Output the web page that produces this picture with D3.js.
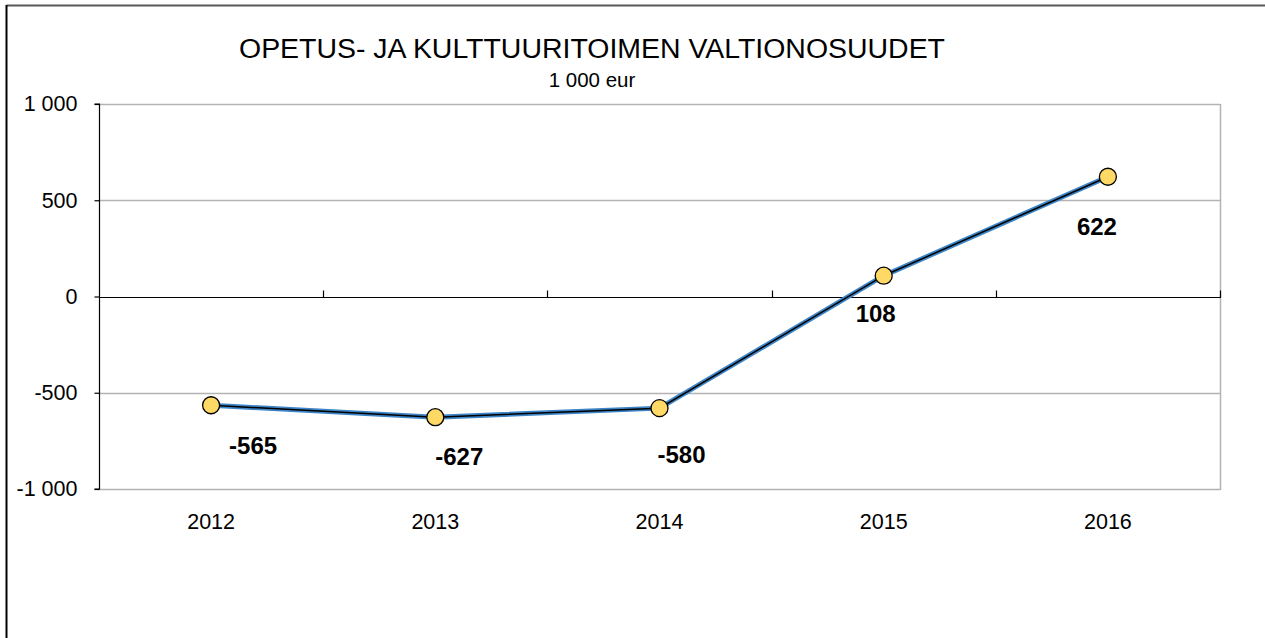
<!DOCTYPE html>
<html>
<head>
<meta charset="utf-8">
<script src="https://cdn.jsdelivr.net/npm/d3@7"></script>
<style>
  body { margin: 0; background: #fff; }
  text { font-family: "Liberation Sans", Arial, sans-serif; }
</style>
</head>
<body>
<div id="chart"></div>
<script>
// data
var years = ["2012", "2013", "2014", "2015", "2016"];
var values = [-565, -627, -580, 108, 622];
var yTicks = [-1000, -500, 0, 500, 1000];
var titleText = "OPETUS- JA KULTTUURITOIMEN VALTIONOSUUDET";
var subtitleText = "1 000 eur";

window.onload = function() {
    var width = 1265, height = 638;
    var margin = {top: 104, right: 45, bottom: 149, left: 99};

    var svg = d3.select("#chart")
                .append("svg")
                .attr("width", width)
                .attr("height", height);

    // outer frame (only top and left edges show in the crop)
    svg.append("line")
        .attr("x1", 6.5).attr("x2", width).attr("y1", 5.5).attr("y2", 5.5)
        .style("stroke", "#595959").style("stroke-width", 2);
    svg.append("line")
        .attr("x1", 6.5).attr("x2", 6.5).attr("y1", 5).attr("y2", height)
        .style("stroke", "#000").style("stroke-width", 2);

    var x = d3.scaleBand()
        .domain(years)
        .range([margin.left, width - margin.right]);

    var y = d3.scaleLinear()
        .domain([-1000, 1000])
        .range([height - margin.bottom, margin.top]);

    // finnish style: hyphen minus, space as thousands separator
    var fmt = function(d) {
        return d3.format(",")(d).replace(/,/g, " ").replace("\u2212", "-");
    };

    // gridlines
    svg.append("g")
        .selectAll("line")
        .data(yTicks.filter(function(d) { return d !== 0; }))
        .enter()
        .append("line")
        .attr("x1", margin.left)
        .attr("x2", width - margin.right)
        .attr("y1", function(d) { return Math.round(y(d)) + 0.5; })
        .attr("y2", function(d) { return Math.round(y(d)) + 0.5; })
        .style("stroke", "#b3b3b3")
        .style("stroke-width", 1.5);

    // right edge of plot area
    svg.append("line")
        .attr("x1", width - margin.right + 0.5)
        .attr("x2", width - margin.right + 0.5)
        .attr("y1", y(1000))
        .attr("y2", y(-1000) + 1)
        .style("stroke", "#b3b3b3")
        .style("stroke-width", 1.5);

    // y axis
    var yAxis = svg.append("g")
        .attr("transform", "translate(" + (margin.left + 0.5) + ",0)")
        .call(d3.axisLeft(y).tickValues(yTicks).tickSize(5).tickPadding(17).tickFormat(fmt));
    yAxis.select(".domain").attr("d", "M-5," + y(1000) + "H0V" + y(-1000) + "H-5")
        .style("stroke", "#000").style("stroke-width", 1.2);
    yAxis.selectAll("line").style("stroke", "#000").style("stroke-width", 1.2);
    yAxis.selectAll("text")
        .style("font-size", "21.5px")
        .style("fill", "#000");

    // category axis along zero, ticks pointing up at band edges
    var zeroY = Math.round(y(0)) + 0.5;
    var edges = years.map(function(d) { return x(d); }).concat([x(years[years.length - 1]) + x.bandwidth()]);
    svg.append("line")
        .attr("x1", margin.left).attr("x2", width - margin.right + 1)
        .attr("y1", zeroY).attr("y2", zeroY)
        .style("stroke", "#000").style("stroke-width", 1.2);
    svg.append("g")
        .selectAll("line")
        .data(edges.slice(1))
        .enter()
        .append("line")
        .attr("x1", function(d) { return Math.round(d) + 0.5; })
        .attr("x2", function(d) { return Math.round(d) + 0.5; })
        .attr("y1", zeroY)
        .attr("y2", zeroY - 7)
        .style("stroke", "#000")
        .style("stroke-width", 1.2);

    // category labels below plot
    svg.append("g")
        .selectAll("text")
        .data(years)
        .enter()
        .append("text")
        .attr("x", function(d) { return x(d) + x.bandwidth() / 2; })
        .attr("y", y(-1000) + 40)
        .attr("text-anchor", "middle")
        .style("font-size", "21.5px")
        .text(function(d) { return d; });

    // line: blue band with thin black core
    var line = d3.line()
        .x(function(d, i) { return x(years[i]) + x.bandwidth() / 2; })
        .y(function(d) { return y(d); });

    svg.append("path")
        .datum(values)
        .attr("d", line)
        .style("fill", "none")
        .style("stroke", "#3d85c6")
        .style("stroke-width", 5);
    svg.append("path")
        .datum(values)
        .attr("d", line)
        .style("fill", "none")
        .style("stroke", "#000")
        .style("stroke-width", 1.5);

    svg.append("g")
        .selectAll("circle")
        .data(values)
        .enter()
        .append("circle")
        .attr("cx", function(d, i) { return x(years[i]) + x.bandwidth() / 2; })
        .attr("cy", function(d) { return y(d); })
        .attr("r", 8.5)
        .style("fill", "#ffd966")
        .style("stroke", "#000")
        .style("stroke-width", 1.3);

    // value labels (Excel placed them by hand, offsets estimated)
    var labelDx = [42, 24, 22, -8, -11];
    var labelDy = [49, 48, 55, 46, 58];
    svg.append("g")
        .selectAll("text")
        .data(values)
        .enter()
        .append("text")
        .attr("x", function(d, i) { return x(years[i]) + x.bandwidth() / 2 + labelDx[i]; })
        .attr("y", function(d, i) { return y(d) + labelDy[i]; })
        .attr("text-anchor", "middle")
        .style("font-size", "24px")
        .style("font-weight", "bold")
        .text(function(d) { return d; });

    // titles
    svg.append("text")
        .attr("x", 592)
        .attr("y", 58)
        .attr("text-anchor", "middle")
        .attr("textLength", 706)
        .attr("lengthAdjust", "spacingAndGlyphs")
        .style("font-size", "27px")
        .text(titleText);
    svg.append("text")
        .attr("x", 592)
        .attr("y", 87)
        .attr("text-anchor", "middle")
        .style("font-size", "20.5px")
        .text(subtitleText);
};
</script>
</body>
</html>
